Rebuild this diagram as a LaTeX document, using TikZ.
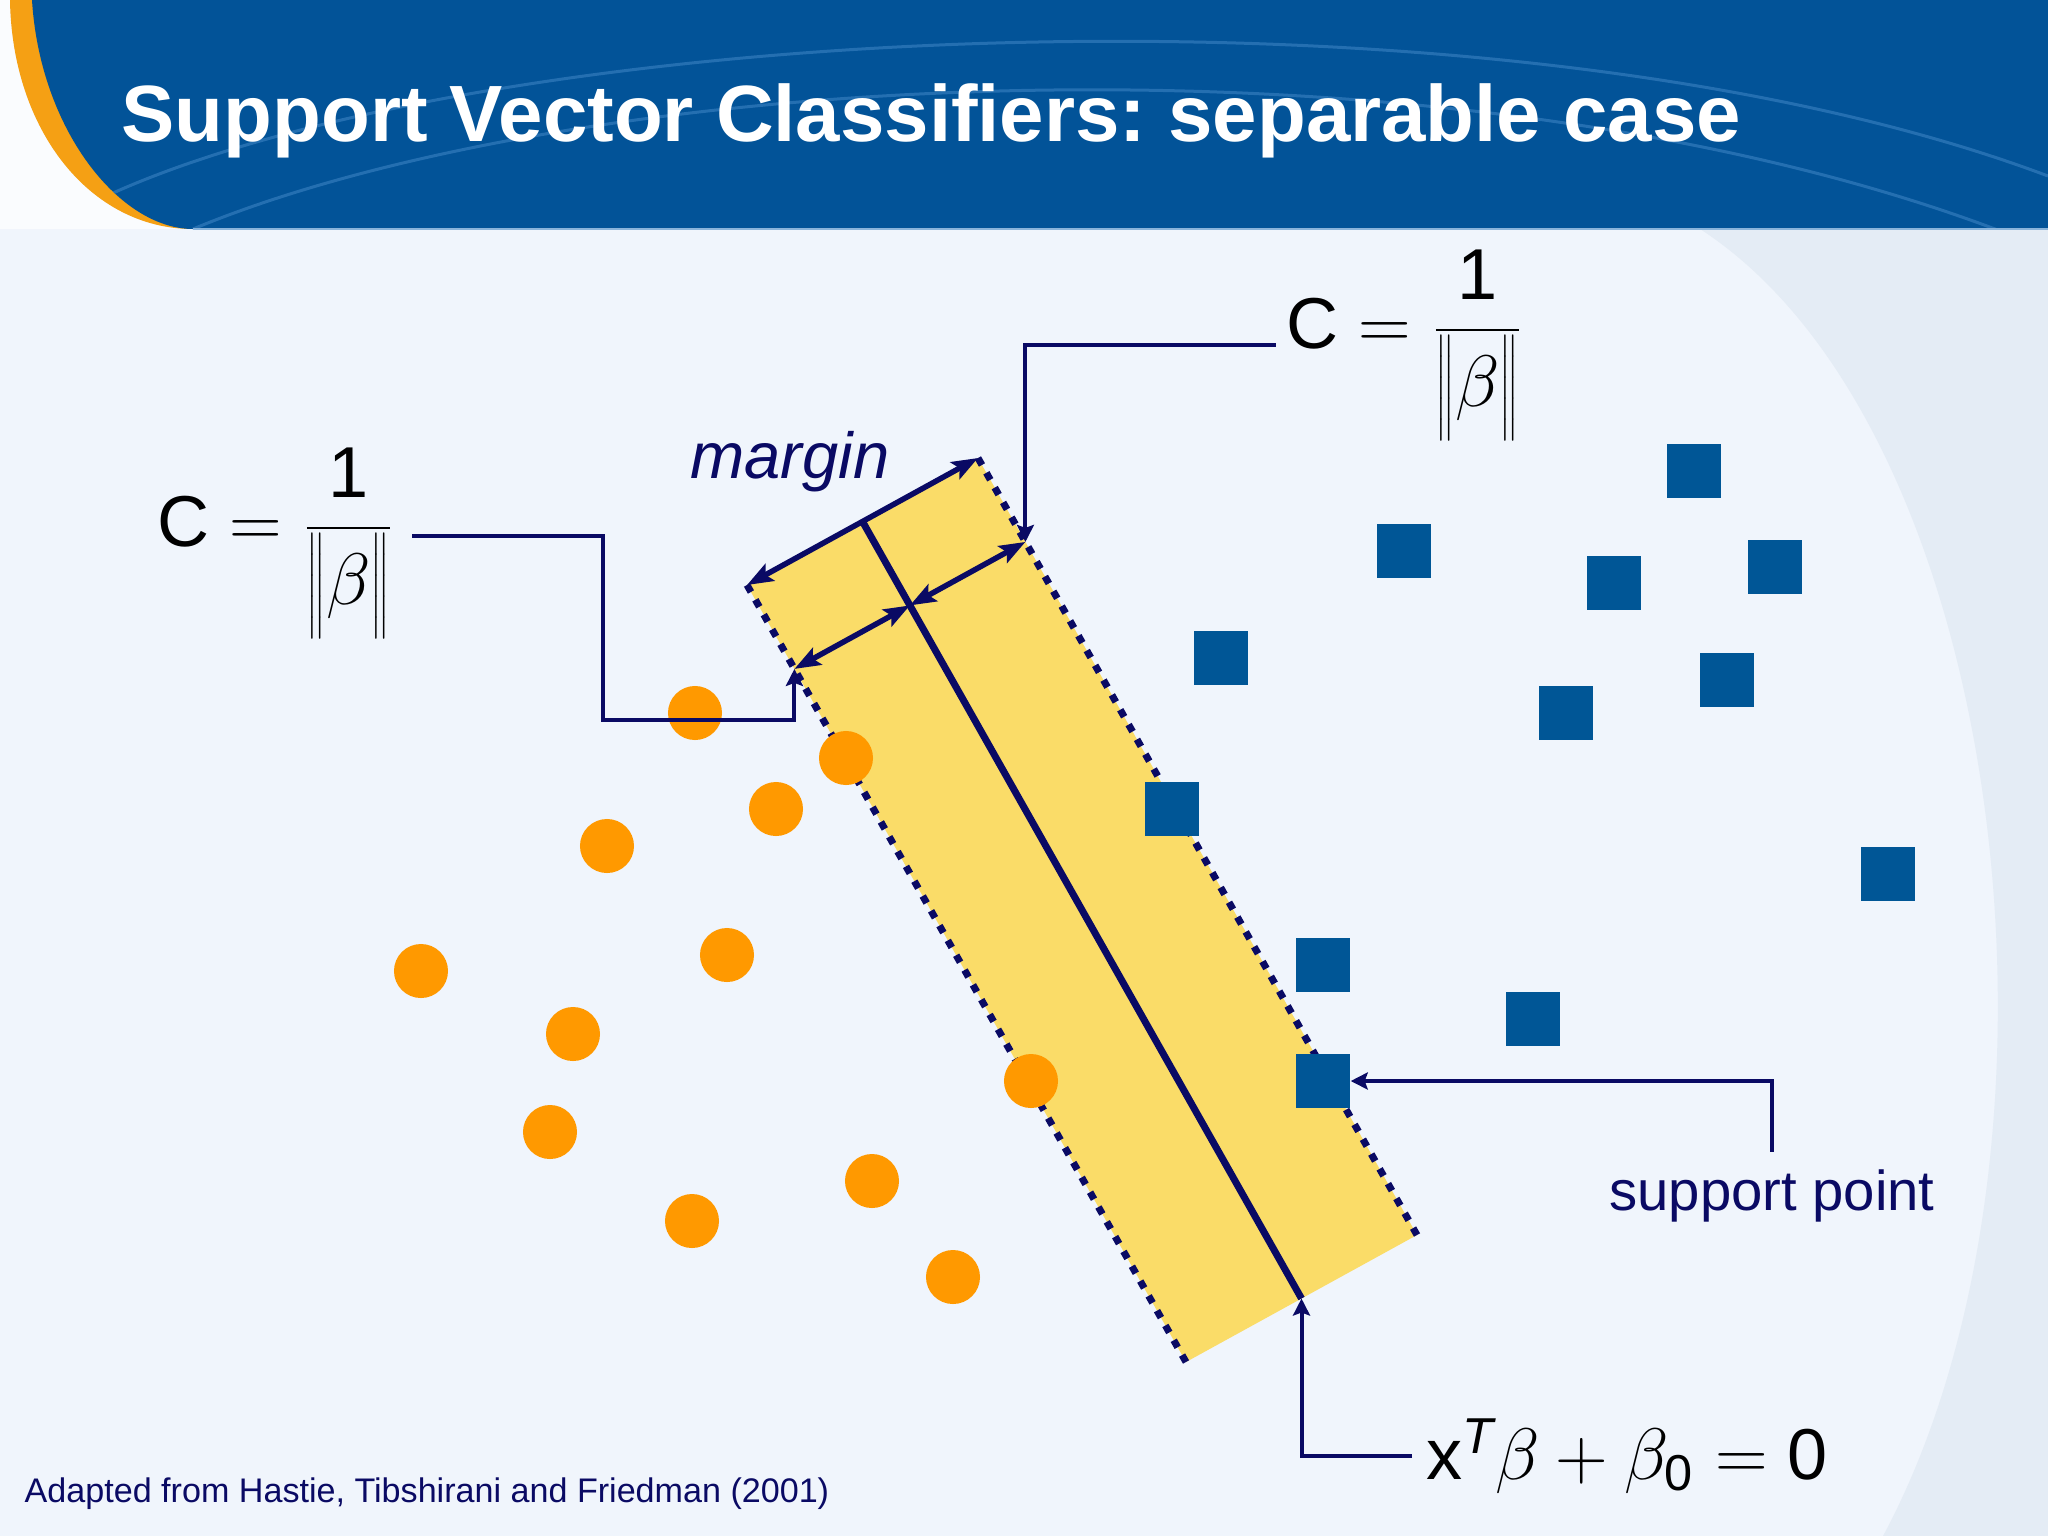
\documentclass[tikz,border=0pt]{standalone}
\usepackage{fontspec}
\setmainfont{Liberation Sans}
\usetikzlibrary{arrows.meta,calc}
\frenchspacing

\definecolor{navyline}{RGB}{10,10,100}
\definecolor{sqblue}{RGB}{0,86,150}
\definecolor{dotorange}{RGB}{255,153,0}
\definecolor{bandyellow}{RGB}{250,220,104}
\definecolor{headblue}{RGB}{2,83,152}
\definecolor{headline}{RGB}{60,130,195}
\definecolor{bgin}{RGB}{240,245,252}
\definecolor{bgout}{RGB}{228,236,245}
\definecolor{stripe}{RGB}{245,160,20}

% frazione 1/||beta||
\newcommand{\invnorm}{{\delimiterfactor=1000 \delimitershortfall=0pt
  \displaystyle\mathrm{C}=\frac{\mathrm{1}}{\left\|\vrule height 0.655cm depth 0.295cm width 0pt\beta\right\|}}}

\begin{document}
\begin{tikzpicture}[x=0.01cm, y=-0.01cm,
    ptorange/.style={circle, fill=dotorange, minimum size=0.54cm, inner sep=0pt},
    ptblue/.style={rectangle, fill=sqblue, minimum size=0.54cm, inner sep=0pt},
    bordo/.style={draw=navyline, line width=0.07cm, dash pattern=on 0.08cm off 0.09cm},
    link/.style={draw=navyline, line width=0.04cm, -{Stealth[length=0.17cm, width=0.17cm, inset=0.03cm]}},
    misura/.style={draw=navyline, line width=0.055cm,
      {Stealth[length=0.26cm, width=0.19cm, inset=0.05cm]}-{Stealth[length=0.26cm, width=0.19cm, inset=0.05cm]}},
    testo/.style={inner sep=0pt, text=navyline},
    formula/.style={inner sep=0pt, font=\fontsize{20.5}{24}\selectfont}]
    \useasboundingbox (0,0) rectangle (2048,1536);

    % Sfondo
    \fill[bgin] (0,0) rectangle (2048,1536);
    \fill[bgout] (1700,229) .. controls (2010,430) and (2090,1150) .. (1883,1536) -- (2048,1536) -- (2048,229) -- cycle;
    \fill[white!70!bgin] (0,0) -- (10,0) .. controls (12,130) and (90,229) .. (193,229) -- (0,229) -- cycle;

    % Intestazione
    \fill[stripe] (10,0) .. controls (12,130) and (90,229) .. (193,229) -- (2048,229) -- (2048,0) -- cycle;
    \fill[headblue] (32,0) .. controls (40,130) and (120,229) .. (193,229) -- (2048,229) -- (2048,0) -- cycle;
    \begin{scope}
        \clip (32,0) .. controls (40,130) and (120,229) .. (193,229) -- (2048,229) -- (2048,0) -- cycle;
        \draw[headline, line width=0.03cm, opacity=0.6] (113,193) .. controls (500,20) and (1500,-30) .. (2048,176);
        \draw[headline, line width=0.03cm, opacity=0.6] (193,229) .. controls (600,60) and (1500,20) .. (2048,250);
    \end{scope}
    \draw[headline!60!white, line width=0.02cm] (193,229) -- (2048,229);
    \node[inner sep=0pt, anchor=base west, text=white, font=\fontsize{22.7}{27}\selectfont\bfseries] (titolo) at (121,141)
        {Support Vector Classifiers: separable case};

    % Fascia del margine
    \coordinate (tl) at (747,585);
    \coordinate (tr) at (978,458);
    \coordinate (br) at (1417,1235);
    \coordinate (bl) at (1186,1362);
    \coordinate (ctop) at ($(tl)!0.5!(tr)$);
    \coordinate (cbot) at ($(bl)!0.5!(br)$);
    \coordinate (pL) at ($(tl)!0.108!(bl)$);
    \coordinate (pR) at ($(tr)!0.108!(br)$);
    \coordinate (pC) at ($(pL)!0.5!(pR)$);
    \fill[bandyellow] (tl) -- (tr) -- (br) -- (bl) -- cycle;
    \draw[navyline, line width=0.07cm] (ctop) -- (cbot);
    \draw[bordo] (tl) -- (bl);
    \draw[bordo] (tr) -- (br);

    % Frecce del margine
    \draw[misura] (tl) -- (tr);
    \draw[misura] (pL) -- (pC);
    \draw[misura] (pC) -- (pR);
    \node[testo, anchor=base, font=\fontsize{18.5}{22}\selectfont\itshape] (margin) at (790,478) {margin};

    % Punti arancioni
    \node[ptorange] (o1) at (695,713) {};
    \node[ptorange] (o2) at (846,758) {};
    \node[ptorange] (o3) at (776,809) {};
    \node[ptorange] (o4) at (607,846) {};
    \node[ptorange] (o5) at (421,971) {};
    \node[ptorange] (o6) at (727,955) {};
    \node[ptorange] (o7) at (573,1034) {};
    \node[ptorange] (o8) at (550,1132) {};
    \node[ptorange] (o9) at (1031,1081) {};
    \node[ptorange] (o10) at (872,1181) {};
    \node[ptorange] (o11) at (692,1221) {};
    \node[ptorange] (o12) at (953,1277) {};

    % Punti blu
    \node[ptblue] (s1) at (1694,471) {};
    \node[ptblue] (s2) at (1404,551) {};
    \node[ptblue] (s3) at (1614,583) {};
    \node[ptblue] (s4) at (1775,567) {};
    \node[ptblue] (s5) at (1221,658) {};
    \node[ptblue] (s6) at (1566,713) {};
    \node[ptblue] (s7) at (1727,680) {};
    \node[ptblue] (s8) at (1172,809) {};
    \node[ptblue] (s9) at (1888,874) {};
    \node[ptblue] (s10) at (1323,965) {};
    \node[ptblue] (s11) at (1533,1019) {};
    \node[ptblue] (s12) at (1323,1081) {};

    % Etichette
    \node[formula, anchor=center] (fL) at (276,543) {$\invnorm$};
    \node[formula, anchor=center] (fR) at (1405,345) {$\invnorm$};
    \node[formula, anchor=west] (fB) at (1426,1456) {$\mathrm{x}^{\mathit{T}}\beta+\beta_{\mathrm{0}}=\mathrm{0}$};
    \node[testo, anchor=base, font=\fontsize{16}{19}\selectfont] (sp) at (1772,1210) {support point};
    \node[testo, anchor=base west, font=\fontsize{9.7}{12}\selectfont] (fonte) at (24,1502)
        {Adapted from Hastie, Tibshirani and Friedman (2001)};

    % Collegamenti
    \draw[link] ([xshift=0.17cm, yshift=0.07cm]fL.east) -| (603,720) -| (pL);
    \draw[link] ([xshift=-0.1cm]fR.west) -| (pR);
    \draw[link] ([yshift=0.17cm]sp.north) |- (s12.east);
    \draw[link] ([xshift=-0.14cm]fB.west) -| (cbot);
\end{tikzpicture}
\end{document}
